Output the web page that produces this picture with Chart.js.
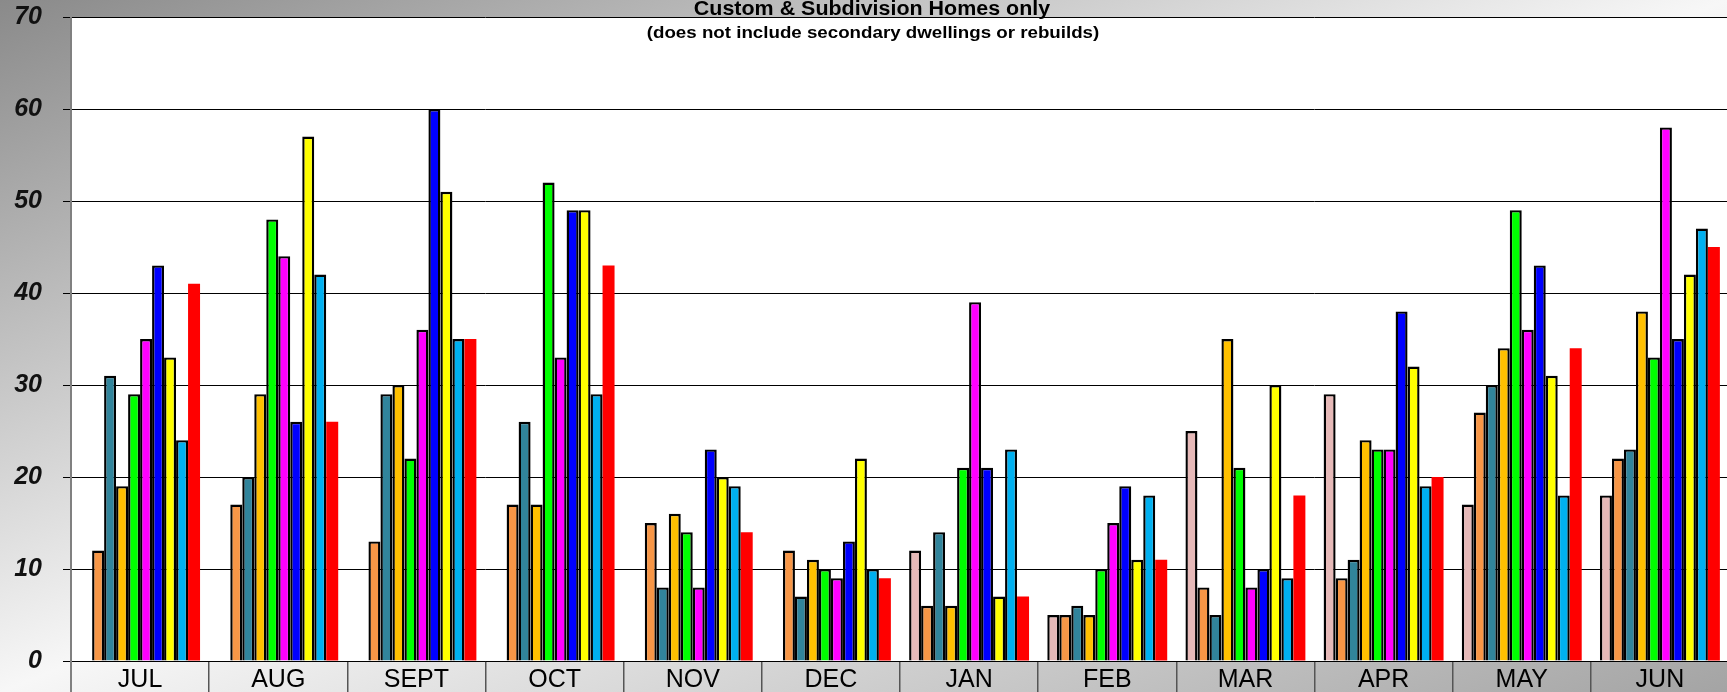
<!DOCTYPE html>
<html>
<head>
<meta charset="utf-8">
<script src="https://cdn.jsdelivr.net/npm/chart.js@4/dist/chart.umd.min.js"></script>
<style>
  html, body { margin: 0; padding: 0; width: 1727px; height: 692px; overflow: hidden; }
  body { background: linear-gradient(to bottom right, #8a8a8a 0%, #f7f7f7 50%, #a4a4a4 100%); position: relative; }
  #wrap { position: absolute; left: 0; top: 0; width: 1760px; height: 692px; }
</style>
</head>
<body>
<div id="wrap"><canvas id="c" width="1760" height="692"></canvas></div>
<script>
const categories = ["JUL", "AUG", "SEPT", "OCT", "NOV", "DEC", "JAN", "FEB", "MAR", "APR", "MAY", "JUN"];
const yTicks = [0, 10, 20, 30, 40, 50, 60, 70];

const seriesPink    = [null, null, null, null, null, null, 12, 5, 25, 29, 17, 18];
const seriesOrange  = [12, 17, 13, 17, 15, 12, 6, 5, 8, 9, 27, 22];
const seriesTeal    = [31, 20, 29, 26, 8, 7, 14, 6, 5, 11, 30, 23];
const seriesGold    = [19, 29, 30, 17, 16, 11, 6, 5, 35, 24, 34, 38];
const seriesGreen   = [29, 48, 22, 52, 14, 10, 21, 10, 21, 23, 49, 33];
const seriesMagenta = [35, 44, 36, 33, 8, 9, 39, 15, 8, 23, 36, 58];
const seriesBlue    = [43, 26, 60, 49, 23, 13, 21, 19, 10, 38, 43, 35];
const seriesYellow  = [33, 57, 51, 49, 20, 22, 7, 11, 30, 32, 31, 42];
const seriesCyan    = [24, 42, 35, 29, 19, 10, 23, 18, 9, 19, 18, 47];
const seriesRed     = [41, 26, 35, 43, 14, 9, 7, 11, 18, 20, 34, 45];

const titleText = "Custom & Subdivision Homes only";
const subtitleText = "(does not include secondary dwellings or rebuilds)";

const seriesList = [
  { name: "s1", data: seriesPink,    color: "#E6B9B8", border: 2.4 },
  { name: "s2", data: seriesOrange,  color: "#F79646", border: 2.4 },
  { name: "s3", data: seriesTeal,    color: "#31849B", border: 2.4 },
  { name: "s4", data: seriesGold,    color: "#FFC000", border: 2.4 },
  { name: "s5", data: seriesGreen,   color: "#00FF00", border: 2.4 },
  { name: "s6", data: seriesMagenta, color: "#FF00FF", border: 2.4 },
  { name: "s7", data: seriesBlue,    color: "#0000FF", border: 2.4 },
  { name: "s8", data: seriesYellow,  color: "#FFFF00", border: 2.4 },
  { name: "s9", data: seriesCyan,    color: "#00B0F0", border: 2.4 },
  { name: "s10", data: seriesRed,    color: "#FF0000", border: 0 }
];

function stretchedText(ctx, text, cx, y, font, sx) {
  ctx.save();
  ctx.font = font;
  ctx.translate(cx, y);
  ctx.scale(sx, 1);
  ctx.textAlign = "center";
  ctx.textBaseline = "alphabetic";
  ctx.fillText(text, 0, 0);
  ctx.restore();
}

const plotBg = {
  id: "plotBg",
  beforeDraw(chart) {
    const { ctx, chartArea: a } = chart;
    ctx.save();
    ctx.fillStyle = "#ffffff";
    ctx.fillRect(a.left, a.top, a.right - a.left, a.bottom - a.top);
    ctx.restore();
  },
  afterDraw(chart) {
    const { ctx, chartArea: a } = chart;
    ctx.save();
    ctx.strokeStyle = "#808080";
    ctx.lineWidth = 2;
    ctx.beginPath();
    ctx.moveTo(a.left, a.top);
    ctx.lineTo(a.left, chart.height);
    ctx.stroke();
    ctx.fillStyle = "#000";
    stretchedText(ctx, titleText, 872, 14.5, "bold 19.5px 'Liberation Sans', Arial, sans-serif", 1.1);
    stretchedText(ctx, subtitleText, 873, 37.5, "bold 16px 'Liberation Sans', Arial, sans-serif", 1.17);
    ctx.restore();
  }
};

new Chart(document.getElementById("c"), {
  type: "bar",
  data: {
    labels: categories,
    datasets: seriesList.map(s => ({
      label: s.name,
      data: s.data,
      backgroundColor: s.color,
      borderColor: "#000000",
      borderWidth: s.border,
      barPercentage: 1.0,
      categoryPercentage: 0.868
    }))
  },
  options: {
    responsive: false,
    animation: false,
    devicePixelRatio: 1,
    layout: { padding: { top: 17, right: 31, left: 0, bottom: 0 } },
    plugins: {
      legend: { display: false },
      title: { display: false },
      tooltip: { enabled: false }
    },
    scales: {
      x: {
        type: "category",
        offset: true,
        afterFit(scale) { scale.height = 31; scale.paddingLeft = 0; scale.paddingRight = 0; },
        grid: {
          offset: true,
          drawOnChartArea: false,
          drawTicks: true,
          tickLength: 31,
          color: "#555555",
          lineWidth: 1.5
        },
        border: { display: true, color: "#000000", width: 1 },
        ticks: {
          color: "#000000",
          padding: -27,
          font: { family: "'Liberation Sans', Arial, sans-serif", size: 25 },
          maxRotation: 0,
          autoSkip: false
        }
      },
      y: {
        min: 0,
        max: 70,
        afterFit(scale) { scale.width = 71; scale.paddingTop = 0; scale.paddingBottom = 0; },
        afterBuildTicks(scale) { scale.ticks = yTicks.map(v => ({ value: v })); },
        grid: {
          color: "#000000",
          lineWidth: 1,
          drawTicks: true,
          tickLength: 8
        },
        border: { display: false },
        ticks: {
          color: "#111111",
          padding: 21,
          font: { family: "'Liberation Sans', Arial, sans-serif", size: 25, style: "italic", weight: "bold" }
        }
      }
    }
  },
  plugins: [plotBg]
});
</script>
</body>
</html>
